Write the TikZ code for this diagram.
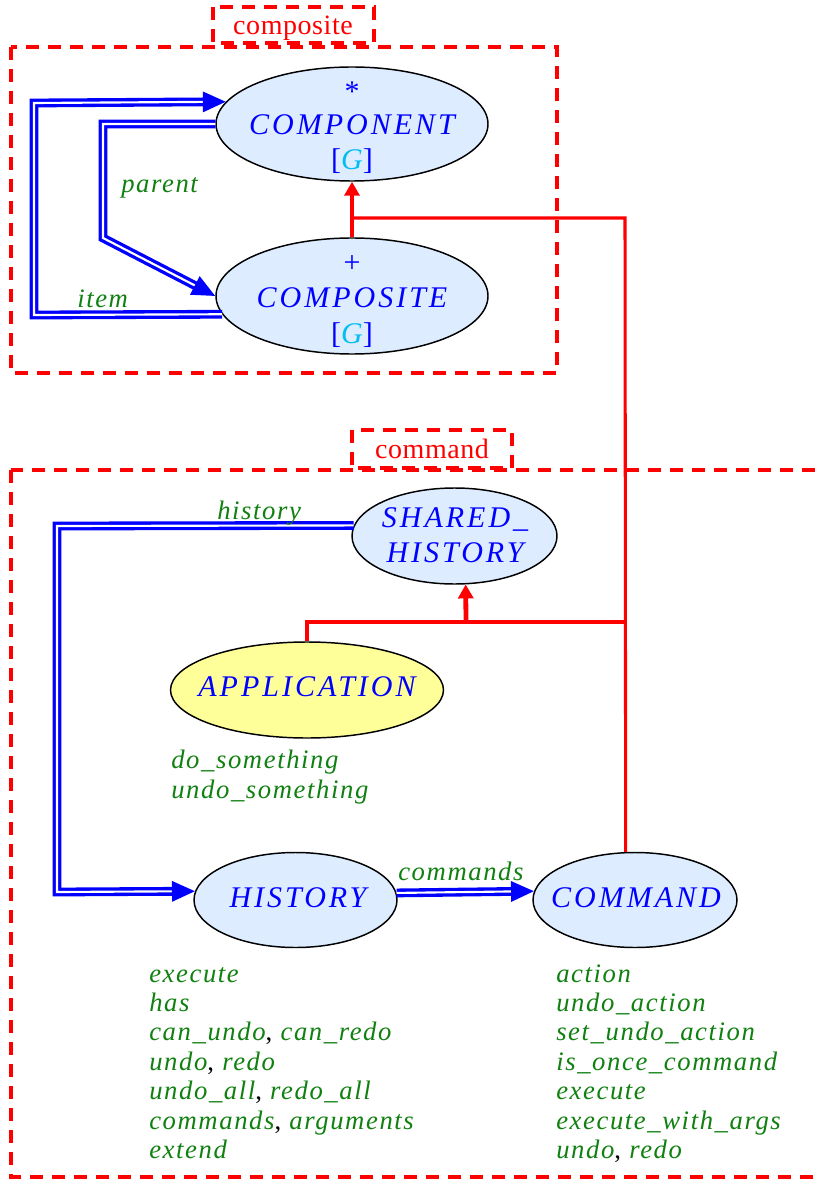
\documentclass[tikz,border=0pt]{standalone}
\usepackage{fontspec}
\setmainfont{Liberation Serif}
\newfontfamily\blfont[LetterSpace=10]{Liberation Serif}
\newfontfamily\grfont[LetterSpace=6]{Liberation Serif}
\newfontfamily\tabfont[LetterSpace=2]{Liberation Serif}
\usetikzlibrary{arrows.meta,shapes.geometric}
\definecolor{lblue}{RGB}{221,236,255}
\definecolor{lyellow}{RGB}{255,255,153}
\definecolor{fgreen}{RGB}{16,128,16}
\definecolor{gcyan}{RGB}{0,190,240}
\newcommand{\blkcomma}{{\upshape\color{black},}}
\begin{document}
\begin{tikzpicture}[x=0.75pt,y=-0.75pt,
  cls/.style={ellipse, draw=black, line width=1.1pt, fill=lblue, inner sep=0pt},
  bltext/.style={anchor=base, inner sep=0pt, text=blue, font=\blfont\fontsize{22.5}{25}\selectfont\itshape},
  grtext/.style={anchor=base west, inner sep=0pt, text=fgreen, font=\grfont\fontsize{20}{22}\selectfont\itshape},
  cluster/.style={draw=red, line width=2.6pt, dash pattern=on 9.75pt off 6.75pt},
  tabtext/.style={anchor=base, inner sep=0pt, text=red, font=\tabfont\fontsize{21}{24}\selectfont},
  client/.style={draw=blue, line width=2.5pt, double=white, double distance=1.6pt, -{Triangle[length=17.25pt,width=15pt]}},
  inhthick/.style={draw=red, line width=3.6pt, -{Triangle[length=10.5pt,width=11.25pt]}},
  inhthin/.style={draw=red, line width=2.3pt},
]
\useasboundingbox[fill=white] (0,0) rectangle (820,1180);

% clusters
\draw[cluster] (11,47) rectangle (557,373);
\draw[cluster] (213,7) rectangle (374,43);
\node[tabtext] (tcomp) at (293,35) {composite};
\draw[cluster] (11,470) rectangle (850,1177);
\draw[cluster] (352,430) rectangle (512,468);
\node[tabtext] (tcmd) at (432,458) {command};

% classes
\node[cls, minimum width=204pt, minimum height=85.5pt] (cpn) at (352,124) {};
\node[bltext] (cpn1) at (352,102) {\upshape *};
\node[bltext] (cpn2) at (352,135) {COMPONENT};
\node[bltext] (cpn3) at (352,170) {\upshape [\textcolor{gcyan}{\itshape G}]};

\node[cls, minimum width=204pt, minimum height=87pt] (cps) at (352,296) {};
\node[bltext] (cps1) at (352,273) {\upshape +};
\node[bltext] (cps2) at (352,308) {COMPOSITE};
\node[bltext] (cps3) at (352,343) {\upshape [\textcolor{gcyan}{\itshape G}]};

\node[cls, minimum width=153.75pt, minimum height=72pt] (sh) at (454.5,536) {};
\node[bltext] (sh1) at (455,527) {SHARED\_};
\node[bltext] (sh2) at (455,562) {HISTORY};

\node[cls, fill=lyellow, minimum width=204.75pt, minimum height=72pt] (app) at (307,690) {};
\node[bltext] (app1) at (307,696) {APPLICATION};

\node[cls, minimum width=152.25pt, minimum height=71.25pt] (his) at (295.5,900) {};
\node[bltext] (his1) at (298,907) {HISTORY};

\node[cls, minimum width=153pt, minimum height=71.25pt] (cmd) at (635,900) {};
\node[bltext] (cmd1) at (636,907) {COMMAND};

% client connectors
\coordinate (i1) at (34,315);
\coordinate (i2) at (34,103);
\draw[client] (cps.188.4) -- (i1) -- (i2) -- (cpn.170.6);
\coordinate (p1) at (103,124);
\coordinate (p2) at (103,238);
\draw[client] (cpn.west) -- (p1) -- (p2) -- (cps.west);
\coordinate (h1) at (57,526);
\coordinate (h2) at (57,892);
\draw[client] (sh.174.3) -- (h1) -- (h2) -- (his.175.43);
\draw[client] (his.4.57) -- (cmd.175.45);

% inheritance
\draw[inhthick] (cps.north) -- (cpn.south);
\coordinate (j1) at (352,218);
\coordinate (j2) at (625,218);
\draw[inhthin] (cmd.101.9) -- (j2) -- (j1);
\coordinate (j3) at (625,622);
\coordinate (j4) at (466,622);
\coordinate (j5) at (307,622);
\draw[inhthin] (app.north) -- (j5) -- (j3);
\draw[inhthick] (j4) -- (sh.283.6);

% labels
\node[grtext] (lparent) at (121,193) {parent};
\node[grtext] (litem) at (77,308) {item};
\node[grtext] (lhist) at (217,519) {history};
\node[grtext] (lcmds) at (398,880) {commands};

\node[grtext] (a1) at (171,768) {do\_something};
\node[grtext] (a2) at (171,798) {undo\_something};

\node[grtext] (f1) at (149,982) {execute};
\node[grtext] (f2) at (149,1011.4) {has};
\node[grtext] (f3) at (149,1040.8) {can\_undo\blkcomma{} can\_redo};
\node[grtext] (f4) at (149,1070.2) {undo\blkcomma{} redo};
\node[grtext] (f5) at (149,1099.6) {undo\_all\blkcomma{} redo\_all};
\node[grtext] (f6) at (149,1129) {commands\blkcomma{} arguments};
\node[grtext] (f7) at (149,1158.4) {extend};

\node[grtext] (g1) at (556,982) {action};
\node[grtext] (g2) at (556,1011.4) {undo\_action};
\node[grtext] (g3) at (556,1040.8) {set\_undo\_action};
\node[grtext] (g4) at (556,1070.2) {is\_once\_command};
\node[grtext] (g5) at (556,1099.6) {execute};
\node[grtext] (g6) at (556,1129) {execute\_with\_args};
\node[grtext] (g7) at (556,1158.4) {undo\blkcomma{} redo};
\end{tikzpicture}
\end{document}
